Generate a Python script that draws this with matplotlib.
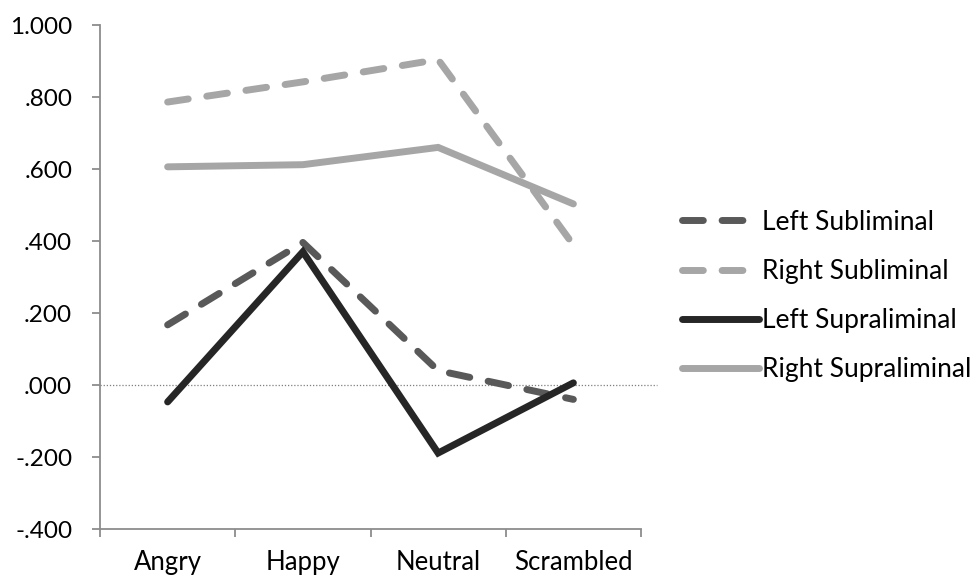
import matplotlib
matplotlib.use("Agg")
import matplotlib.pyplot as plt
import numpy as np

categories = ["Angry", "Happy", "Neutral", "Scrambled"]
left_subliminal = [0.167, 0.396, 0.040, -0.040]
right_subliminal = [0.786, 0.842, 0.904, 0.389]
left_supraliminal = [-0.047, 0.370, -0.189, 0.006]
right_supraliminal = [0.606, 0.612, 0.660, 0.503]
yticks = [-0.4, -0.2, 0.0, 0.2, 0.4, 0.6, 0.8, 1.0]
ytick_labels = ["-.400", "-.200", ".000", ".200", ".400", ".600", ".800", "1.000"]

plt.rcParams['font.family'] = ['Lato', 'DejaVu Sans']

W, H = 979, 581
fig = plt.figure(figsize=(W / 100, H / 100), dpi=100)
ax = fig.add_axes([100 / W, 1 - 529 / H, (641 - 100) / W, (529 - 25) / H])

x = np.arange(len(categories))
lw = 5.0
spine_c = "#8c8c8c"

ax.plot([-0.5, 3.62], [0, 0], linestyle=(0, (1, 1.5)), color="#7f7f7f", lw=0.9,
        clip_on=False, zorder=1)

series = [
    ("Left Subliminal", left_subliminal, "#595959", "dash"),
    ("Right Subliminal", right_subliminal, "#a6a6a6", "dash"),
    ("Left Supraliminal", left_supraliminal, "#262626", "solid"),
    ("Right Supraliminal", right_supraliminal, "#a6a6a6", "solid"),
]
handles = []
for name, vals, c, st in series:
    if st == "dash":
        h, = ax.plot(x, vals, color=c, lw=lw, linestyle=(0, (3.0, 2.7)),
                     dash_capstyle="round", solid_joinstyle="round", label=name, zorder=3)
    else:
        h, = ax.plot(x, vals, color=c, lw=lw, solid_capstyle="round",
                     solid_joinstyle="miter", label=name, zorder=3)
    handles.append(h)

ax.set_xlim(-0.5, 3.5)
ax.set_ylim(-0.4, 1.0)
ax.set_yticks(yticks)
ax.set_yticklabels(ytick_labels)
ax.set_xticks(x)
ax.set_xticklabels(categories)
ax.set_xticks(np.arange(-0.5, 3.6, 1.0), minor=True)

for s in ["top", "right"]:
    ax.spines[s].set_visible(False)
for s in ["left", "bottom"]:
    ax.spines[s].set_color(spine_c)
    ax.spines[s].set_linewidth(1.3)

ax.tick_params(axis="y", length=6, width=1.3, color=spine_c, pad=14,
               labelsize=17.5, labelcolor="#000000", direction="out")
ax.tick_params(axis="x", which="major", length=0, pad=15, labelsize=18.5)
ax.tick_params(axis="x", which="minor", length=6, width=1.3, color=spine_c,
               direction="out")

leg = fig.legend(handles=handles, loc="center left",
                 bbox_to_anchor=(682 / W, 1 - 296 / H), frameon=False,
                 fontsize=19, handlelength=2.9, handletextpad=0.15,
                 labelspacing=0.92, borderaxespad=0, borderpad=0)

fig.savefig("out.png", dpi=100)
